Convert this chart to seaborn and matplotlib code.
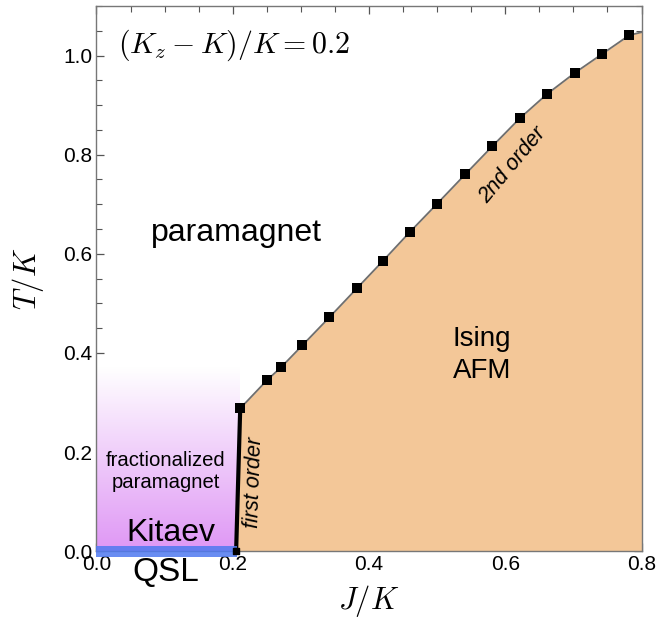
import numpy as np
import pandas as pd
import matplotlib
matplotlib.use("Agg")
import matplotlib.pyplot as plt
from matplotlib.colors import to_rgb
from matplotlib.ticker import MultipleLocator
import seaborn as sns

# ---- data ----
J_points = [0.211, 0.251, 0.271, 0.302, 0.342, 0.382, 0.420, 0.460, 0.500,
            0.541, 0.581, 0.621, 0.661, 0.702, 0.742, 0.782]
T_points = [0.288, 0.346, 0.371, 0.415, 0.472, 0.530, 0.585, 0.644, 0.701,
            0.760, 0.817, 0.873, 0.922, 0.965, 1.003, 1.041]
J_curve_end = [0.80]
T_curve_end = [1.047]
J_first = [0.205, 0.211]
T_first = [0.0, 0.288]
J_qsl = [0.0, 0.206]
T_frac_top = 0.37

x_ticks = [0.0, 0.2, 0.4, 0.6, 0.8]
y_ticks = [0.0, 0.2, 0.4, 0.6, 0.8, 1.0]

sns.set_style("ticks")
plt.rcParams["font.family"] = ["Liberation Sans", "DejaVu Sans"]
plt.rcParams["mathtext.fontset"] = "cm"
plt.rcParams["text.color"] = "black"
plt.rcParams["axes.labelcolor"] = "black"

fig = plt.figure(figsize=(6.56, 6.35), dpi=100)
ax = fig.add_axes([0.147, 0.132, 0.831, 0.8586])

# gradient (fractionalized paramagnet)
purple = np.array(to_rgb("#DF97F5"))
n = 256
frac = np.linspace(0, 1, n)[:, None]
grad = np.ones((n, 1, 4))
grad[:, 0, :3] = purple + (1 - purple) * frac
ax.imshow(grad, origin="lower", aspect="auto",
          extent=[J_qsl[0], J_first[1], 0, T_frac_top], zorder=1,
          interpolation="bilinear")

# ordered region
Jb = np.array(J_first[:1] + J_points + J_curve_end)
Tb = np.array(T_first[:1] + T_points + T_curve_end)
ax.fill_between(Jb, 0, Tb, color="#F3C798", lw=0, zorder=2)

# transition line
df_line = pd.DataFrame({"J": J_points + J_curve_end, "T": T_points + T_curve_end})
sns.lineplot(data=df_line, x="J", y="T", ax=ax, color="#6e6e6e", lw=1.3,
             sort=False, zorder=3)
ax.plot(J_first, T_first, color="black", lw=3, zorder=4, solid_capstyle="butt")

# QSL band
ax.fill_between(J_qsl, -0.011, 0.010, color="#4f79f0", alpha=0.85, lw=0,
                zorder=5, clip_on=False)

df_pts = pd.DataFrame({"J": J_points, "T": T_points})
sns.scatterplot(data=df_pts, x="J", y="T", ax=ax, marker="s", s=45,
                color="black", edgecolor="black", linewidth=0, zorder=6)
ax.scatter([J_first[0]], [T_first[0]], marker="s", s=22, color="black",
           zorder=6, clip_on=False)

# axes
ax.set_xlim(0, 0.8)
ax.set_ylim(0, 1.1)
ax.set_xticks(x_ticks)
ax.set_yticks(y_ticks)
ax.set_xticklabels([f"{v:.1f}" for v in x_ticks])
ax.set_yticklabels([f"{v:.1f}" for v in y_ticks])
ax.xaxis.set_minor_locator(MultipleLocator(0.05))
ax.yaxis.set_minor_locator(MultipleLocator(0.05))
ax.tick_params(which="both", direction="in", top=True, right=True,
               color="#555555", labelsize=15, labelcolor="black")
ax.tick_params(which="major", length=6, width=0.9, pad=3)
ax.tick_params(which="minor", length=4, width=0.8)
for sp in ax.spines.values():
    sp.set_color("#777777")
    sp.set_linewidth(1.0)
ax.set_xlabel("$J/K$", fontsize=22, labelpad=6)
ax.set_ylabel("$T/K$", fontsize=22, labelpad=12)

# annotations
ax.text(0.032, 1.02, "$(K_z - K)/K = 0.2$", fontsize=21.5, ha="left",
        va="center", zorder=7)
ax.text(0.206, 0.642, "paramagnet", fontsize=23, ha="center", va="center")
ax.text(0.566, 0.396, "Ising\nAFM", fontsize=20, ha="center", va="center",
        linespacing=1.3)
ax.text(0.102, 0.160, "fractionalized\nparamagnet", fontsize=14.6,
        ha="center", va="center", linespacing=1.2, zorder=7)
ax.text(0.109, 0.036, "Kitaev", fontsize=23, ha="center", va="center", zorder=7)
ax.text(0.102, -0.044, "QSL", fontsize=24, ha="center", va="center",
        clip_on=False)
ax.text(0.231, 0.138, "first order", fontsize=15.5, style="italic",
        rotation=88, ha="center", va="center", zorder=7)
ax.text(0.611, 0.779, "2nd order", fontsize=15.5, style="italic",
        rotation=50, ha="center", va="center", zorder=7)

fig.savefig("out.png", dpi=100)
